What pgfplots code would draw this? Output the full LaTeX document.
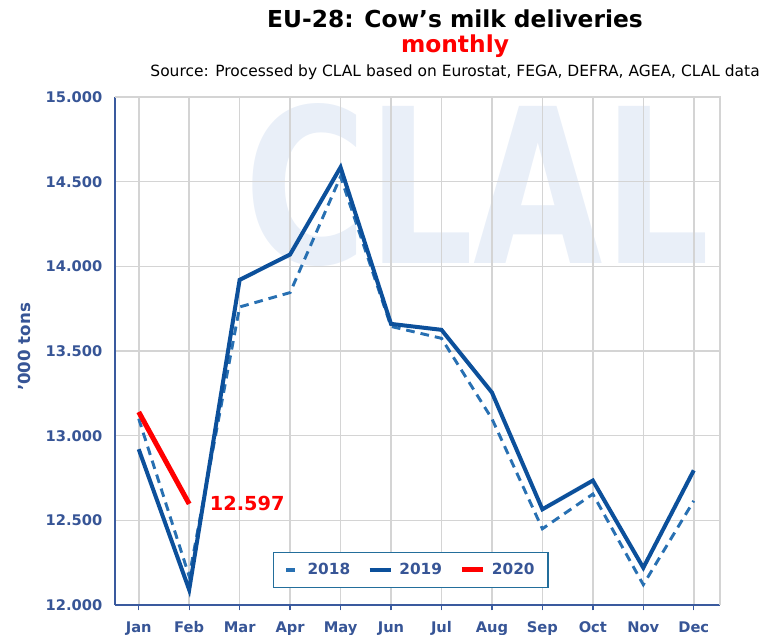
\documentclass[border=0pt]{standalone}
\usepackage{fontspec}
\setmainfont{DejaVu Sans}
\usepackage{graphicx}
\usepackage{pgfplots}
\pgfplotsset{compat=1.18}
\definecolor{tickblue}{RGB}{55,85,150}
\definecolor{lineA}{RGB}{40,112,178}
\definecolor{lineB}{RGB}{12,80,155}
\definecolor{gridgray}{RGB}{212,212,212}
\definecolor{legborder}{RGB}{35,110,155}
\definecolor{wm}{RGB}{233,239,248}
\definecolor{axblue}{RGB}{58,90,158}
\begin{document}
\begin{tikzpicture}
\path[use as bounding box] (0pt,0pt) rectangle (570.75pt,476.25pt);
% watermark
\node[text=wm,inner sep=0pt] at (357.75pt,337.5pt) {\resizebox{349pt}{120pt}{\bfseries CLAL}};
% titles
\node[font=\bfseries\fontsize{17.5}{20}\selectfont,anchor=base] at (341.25pt,455.25pt) {EU-28: Cow’s milk deliveries};
\node[font=\bfseries\fontsize{17.5}{20}\selectfont,text=red,anchor=base] at (341.25pt,436.5pt) {monthly};
\node[font=\fontsize{11.6}{13}\selectfont,anchor=base east,inner sep=0pt] at (570pt,418.5pt) {Source: Processed by CLAL based on Eurostat, FEGA, DEFRA, AGEA, CLAL data};
\begin{axis}[
  at={(86.25pt,22.5pt)}, anchor=south west,
  scale only axis, width=453.75pt, height=381pt,
  xmin=-0.47, xmax=11.52, ymin=12000, ymax=15000,
  scaled y ticks=false,
  xtick={0,...,11},
  xticklabels={Jan,Feb,Mar,Apr,May,Jun,Jul,Aug,Sep,Oct,Nov,Dec},
  ytick={12000,12500,13000,13500,14000,14500,15000},
  yticklabels={12.000,12.500,13.000,13.500,14.000,14.500,15.000},
  axis x line*=bottom, axis y line*=left,
  axis line style={axblue,line width=2.2pt,-},
  x tick style={axblue,line width=1pt},
  major tick length=4pt,
  xtick align=outside,
  y tick style={draw=none},
  grid=major,
  major grid style={gridgray,line width=1.2pt},
  tick label style={font=\bfseries\fontsize{11}{13}\selectfont,text=tickblue},
  yticklabel style={xshift=-6pt},
  xticklabel style={yshift=-5pt},
  ylabel={'000 tons},
  every axis y label/.style={at={(axis description cs:-0.150,0.508)},rotate=90,anchor=center},
  ylabel style={font=\bfseries\fontsize{12.5}{14}\selectfont,text=tickblue},
  clip=false,
  legend style={at={(rel axis cs:0.489,0.069)},anchor=center,legend columns=3,
    draw=legborder,line width=0.9pt,font=\bfseries\fontsize{11.5}{13}\selectfont,text=tickblue,
    inner xsep=8pt,inner ysep=6pt,
    /tikz/every odd column/.append style={column sep=3pt},
    /tikz/every even column/.append style={column sep=11pt}},
]
\draw[gridgray,line width=2.2pt] (rel axis cs:0,1) -- (rel axis cs:1,1) -- (rel axis cs:1,0);
\addplot[lineA,line width=2.2pt,dash pattern=on 6.5pt off 4.5pt,
  legend image code/.code={\draw[lineA,line width=2.4pt] (0.1cm,0cm) -- (0.45cm,0cm);}]
 coordinates {(0,13100) (1,12170) (2,13760) (3,13845) (4,14530) (5,13645) (6,13575) (7,13100) (8,12450) (9,12655) (10,12120) (11,12615)};
\addlegendentry{2018}
\addplot[lineB,line width=3pt,
  legend image code/.code={\draw[lineB,line width=3.2pt] (0cm,0cm) -- (0.55cm,0cm);}]
 coordinates {(0,12920) (1,12090) (2,13920) (3,14070) (4,14585) (5,13660) (6,13625) (7,13255) (8,12565) (9,12735) (10,12220) (11,12795)};
\addlegendentry{2019}
\addplot[red,line width=3.75pt,
  legend image code/.code={\draw[red,line width=3.75pt] (0cm,0cm) -- (0.55cm,0cm);}]
 coordinates {(0,13140) (1,12597)};
\addlegendentry{2020}
\node[anchor=west,text=red,font=\bfseries\fontsize{14.5}{16}\selectfont] at (axis cs:1,12597) [xshift=12pt] {12.597};
\end{axis}
\end{tikzpicture}
\end{document}
